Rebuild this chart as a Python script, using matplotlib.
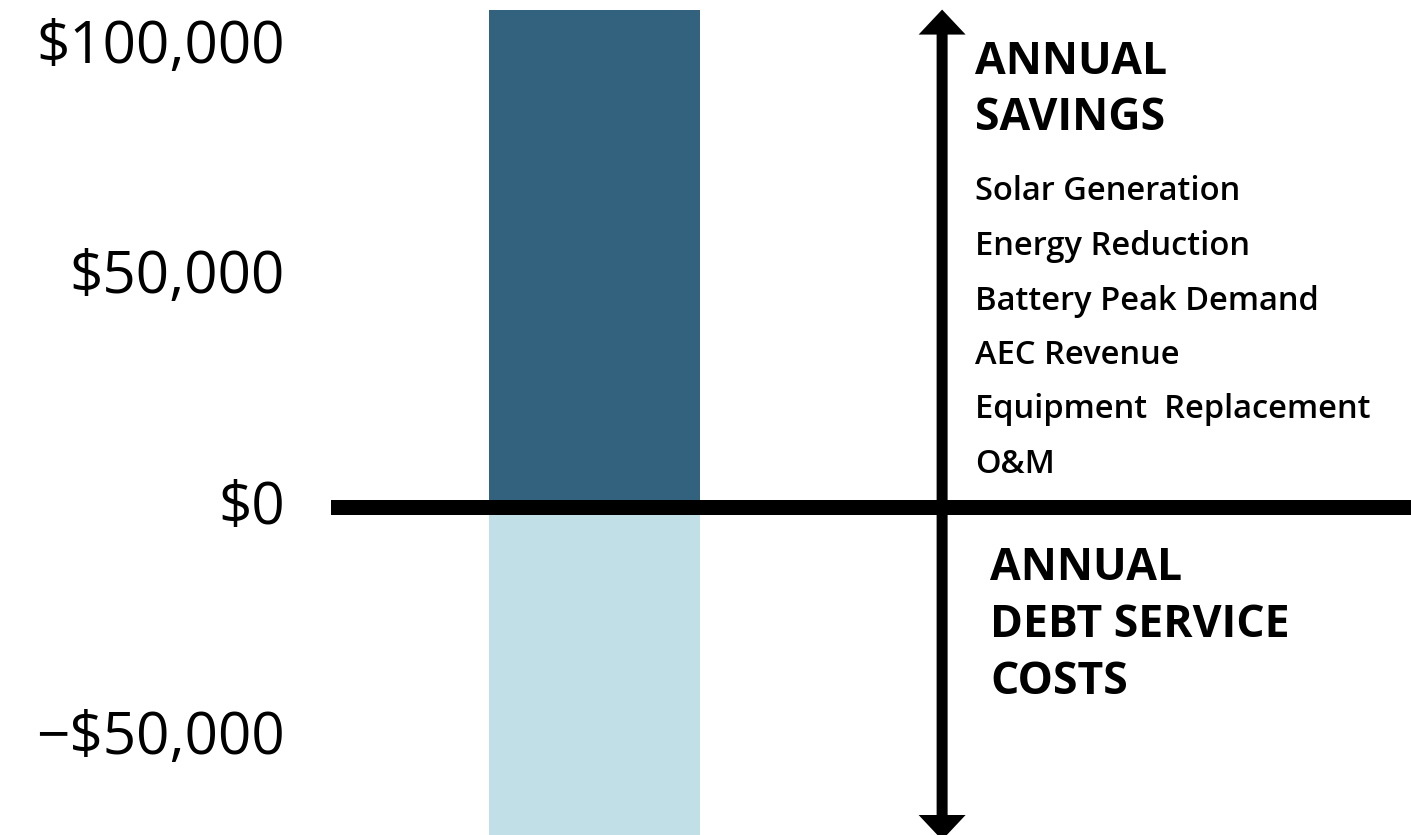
import matplotlib.pyplot as plt
from matplotlib.patches import FancyArrow
from matplotlib.transforms import ScaledTranslation

# Datos
savings = 108000
debt = -72000
tick_vals = [100000, 50000, 0, -50000]
tick_labels = ['$100,000', '$50,000', '$0', '\u2212$50,000']
savings_items = ['Solar Generation', 'Energy Reduction', 'Battery Peak Demand',
                 'AEC Revenue', 'Equipment  Replacement', 'O&M']

color_savings = '#33627f'
color_debt = '#c1dfe6'

plt.rcParams['font.family'] = ['Open Sans', 'DejaVu Sans']

fig = plt.figure(figsize=(14.11, 8.35), dpi=100)
ax = fig.add_axes([331 / 1411, 0, 1080 / 1411, 1])

ax.bar([0], [savings], width=1, color=color_savings, zorder=1)
ax.bar([0], [debt], width=1, color=color_debt, zorder=1)
ax.axhline(0, color='black', lw=10.8, zorder=3)

ax.set_xlim(-1.251, 3.867)
ax.set_ylim(-71035, 110077)

# flecha doble
ax_x = 1.645
for tip in [savings, -72120]:
    ax.add_patch(FancyArrow(ax_x, 0, 0, tip, width=11 / 211, head_width=47 / 211,
                            head_length=5423, length_includes_head=True,
                            color='black', lw=0, zorder=4, clip_on=False))

ax.set_xticks([])
ax.set_yticks(tick_vals)
ax.set_yticklabels(tick_labels, fontsize=42)
ax.tick_params(axis='y', length=0, pad=33)
for lab in ax.get_yticklabels():
    lab.set_transform(lab.get_transform() + ScaledTranslation(0, 6 / 100, fig.dpi_scale_trans))
for s in ax.spines.values():
    s.set_visible(False)

# textos
tr = ax.get_xaxis_transform()
ax.text(1.801, 1 - 63 / 835, 'ANNUAL', transform=tr,
        fontsize=32, fontweight='bold', va='center', ha='left')
ax.text(1.801, 1 - 118 / 835, 'SAVINGS', transform=tr,
        fontsize=32, fontweight='bold', va='center', ha='left')
for i, item in enumerate(savings_items):
    ax.text(1.801, 1 - (192 + 54.5 * i) / 835, item, transform=tr,
            fontsize=23.5, fontweight='semibold', va='center', ha='left')
for i, line in enumerate(['ANNUAL', 'DEBT SERVICE', 'COSTS']):
    ax.text(1.872, 1 - (568 + 57.5 * i) / 835, line, transform=tr,
            fontsize=32, fontweight='bold', va='center', ha='left')

fig.savefig('out.png', dpi=100)
